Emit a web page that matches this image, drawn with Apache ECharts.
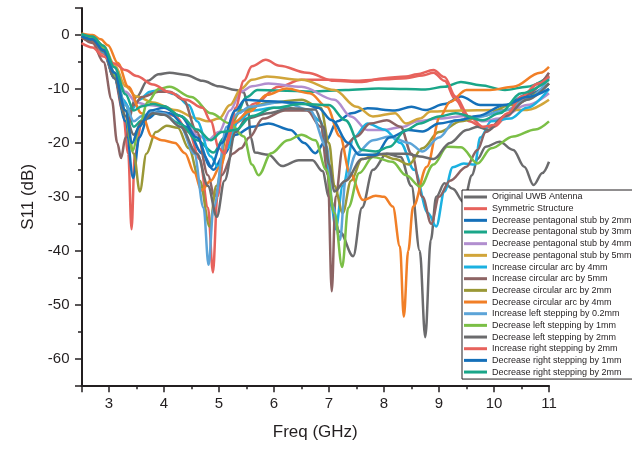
<!DOCTYPE html>
<html><head><meta charset="utf-8">
<script src="https://cdn.jsdelivr.net/npm/echarts@6/dist/echarts.min.js"></script>
<style>html,body{margin:0;padding:0;background:#fff}#c{width:632px;height:449px}</style>
</head><body><div id="c"></div>
<script>
const seriesNames = [
  'Original UWB Antenna','Symmetric Structure','Decrease pentagonal stub by 2mm','Decrease pentagonal stub by 3mm',
  'Decrease pentagonal stub by 4mm','Decrease pentagonal stub by 5mm','Increase circular arc by 4mm','Increase circular arc by 5mm',
  'Decrease circular arc by 2mm','Decrease circular arc by 4mm','Increase left stepping by 0.2mm','Decrease left stepping by 1mm',
  'Decrease left stepping by 2mm','Increase right stepping by 2mm','Decrease right stepping by 1mm','Decrease right stepping by 2mm'
];
const seriesColors = ['#6b6b6d','#e7625c','#1570b9','#1aa689','#b18ecf','#d1a53a','#1bb1e1','#8d6464',
  '#9a9836','#f17f27','#5ca4d8','#7bbf46','#6b6b6d','#e7625c','#1570b9','#1aa689'];

const s01 = [[2.5,-0.3],[2.7,-1],[2.9,-3],[3.1,-7.5],[3.25,-12],[3.38,-13.8],[3.5,-11.5],[3.7,-8.5],[3.9,-7.3],[4.1,-7],[4.4,-7.4],[4.7,-8.5],[5.0,-9.5],[5.3,-10.2],[5.45,-10.6],[5.52,-13],[5.58,-19],[5.65,-21.8],[5.9,-22.2],[6.15,-24.3],[6.45,-23.2],[6.7,-23.2],[6.88,-25.2],[7.0,-30],[7.2,-36.5],[7.44,-41],[7.6,-32],[7.8,-25],[8.05,-22],[8.3,-22.6],[8.5,-28],[8.65,-40],[8.75,-56],[8.85,-38],[8.95,-30],[9.1,-27.5],[9.25,-28.5],[9.45,-31],[9.6,-26],[9.7,-23],[9.85,-20.7],[10.1,-19.8],[10.35,-21.3],[10.55,-24.4],[10.72,-27.8],[10.88,-25.6],[11,-23.5]];
const s02 = [[2.5,-0.5],[2.7,-1.2],[2.9,-3.5],[3.1,-8],[3.25,-14],[3.35,-22],[3.41,-36],[3.47,-22],[3.6,-16],[3.8,-14.5],[4.0,-14.3],[4.2,-15],[4.45,-18],[4.65,-23],[4.8,-32],[4.89,-44],[4.97,-30],[5.1,-22],[5.29,-16.4],[5.65,-12.7],[6.08,-9.6],[6.5,-8.3],[7.05,-8.3],[7.5,-8.5],[8.0,-8.2],[8.4,-8],[8.7,-7.5],[8.9,-7],[9.1,-8.5],[9.3,-12],[9.55,-16],[9.8,-17.2],[10.0,-17],[10.25,-15],[10.5,-12],[10.8,-9],[11,-7.5]];
const s03 = [[2.5,0],[2.7,-0.8],[2.9,-3],[3.1,-8],[3.3,-16],[3.44,-26.5],[3.55,-19],[3.7,-15.5],[3.9,-14.2],[4.1,-14.5],[4.4,-17],[4.7,-22],[4.9,-25],[5.1,-22],[5.3,-18.5],[5.6,-17],[5.9,-16.4],[6.3,-17.6],[6.55,-20],[6.75,-21.9],[6.95,-19.5],[7.15,-16],[7.41,-14.5],[7.7,-13.6],[8.2,-14],[8.5,-13.3],[8.75,-13.9],[9.1,-12.8],[9.4,-11.4],[9.75,-13],[10.2,-13],[10.6,-11.1],[11,-9]];
const s04 = [[2.5,0],[2.7,-0.6],[2.9,-2.5],[3.1,-7],[3.3,-13],[3.45,-17],[3.6,-15.8],[3.8,-14.5],[4.0,-14.8],[4.3,-16.5],[4.6,-19.5],[4.9,-21.8],[5.1,-19],[5.3,-15],[5.5,-11.5],[5.7,-10.2],[6.1,-10.3],[6.7,-10.5],[7.3,-10.2],[7.9,-9.9],[8.4,-10],[8.75,-10.1],[9.1,-9.6],[9.4,-8.7],[9.75,-9.3],[10.2,-10.2],[10.6,-9.6],[11,-7.7]];
const s05 = [[2.5,0],[2.7,-0.5],[2.9,-2.2],[3.1,-6],[3.3,-10.5],[3.5,-12.5],[3.7,-13],[4.0,-13.2],[4.3,-15],[4.6,-18.5],[4.8,-19.5],[5.0,-18],[5.2,-14],[5.4,-10.5],[5.6,-9.5],[5.9,-9],[6.5,-9.6],[7.1,-12],[7.4,-15.1],[7.7,-17.6],[8.0,-17.6],[8.35,-17],[8.6,-16],[9.0,-15.5],[9.5,-15],[9.8,-16],[10.1,-15.5],[10.6,-13],[11,-10.8]];
const s06 = [[2.5,0.2],[2.7,-0.3],[2.9,-2],[3.1,-5.5],[3.3,-9.5],[3.5,-11.4],[3.8,-12.5],[4.2,-13.9],[4.6,-15.5],[4.8,-16],[5.0,-15.5],[5.2,-13],[5.4,-10],[5.6,-8.3],[5.87,-7.7],[6.5,-8.3],[7.1,-10.2],[7.5,-13.3],[7.8,-15.1],[8.2,-14.5],[8.4,-16.4],[8.65,-15.5],[8.85,-14.2],[9.4,-14],[10.0,-13.9],[10.6,-13.9],[11,-12]];
const s07 = [[2.5,0],[2.7,-0.8],[2.9,-3.2],[3.1,-8],[3.25,-12],[3.4,-14],[3.55,-12],[3.75,-10.5],[3.95,-10.2],[4.2,-11],[4.45,-13],[4.6,-16],[4.85,-22.5],[4.98,-24.4],[5.15,-21],[5.35,-16],[5.6,-14],[6.0,-13.5],[6.6,-13.9],[6.85,-16],[6.95,-22],[7.05,-32],[7.12,-36],[7.25,-28],[7.45,-19],[7.7,-16.4],[8.0,-17.5],[8.3,-20],[8.55,-25],[8.8,-33],[8.95,-35.5],[9.1,-29],[9.25,-24.5],[9.45,-23.8],[9.65,-24],[9.75,-19],[9.95,-16],[10.3,-15.5],[10.6,-13.5],[11,-10]];
const s08 = [[2.5,-0.3],[2.7,-1.5],[2.9,-5],[3.05,-12],[3.15,-20],[3.22,-22.8],[3.3,-19],[3.45,-13],[3.6,-11.5],[3.9,-10.5],[4.1,-10.5],[4.35,-12],[4.6,-18],[4.8,-26],[4.92,-30],[5.05,-26],[5.25,-22],[5.4,-21],[5.55,-19],[5.8,-15.5],[6.2,-14],[6.6,-14],[6.85,-17],[6.98,-26],[7.05,-47.5],[7.12,-30],[7.25,-21],[7.5,-18.8],[7.75,-16.4],[8.05,-15.8],[8.3,-17],[8.5,-22],[8.7,-30],[8.86,-35],[9.0,-30],[9.2,-27],[9.5,-24.4],[9.7,-21.3],[9.85,-18],[10.2,-15],[10.6,-11],[11,-7]];
const s09 = [[2.5,0],[2.7,-0.5],[2.9,-2.5],[3.1,-7],[3.3,-14],[3.45,-22],[3.56,-29],[3.68,-22],[3.85,-18],[4.05,-16.8],[4.25,-17.2],[4.45,-21],[4.65,-27],[4.83,-35.5],[4.95,-28],[5.15,-18],[5.4,-14],[5.9,-12.6],[6.5,-12],[6.85,-13.5],[7.0,-20],[7.1,-28],[7.25,-33],[7.4,-27],[7.6,-23],[7.9,-22],[8.2,-23],[8.45,-24],[8.7,-21],[9.0,-18],[9.4,-16],[9.8,-15],[10.3,-13],[11,-9]];
const s10 = [[2.5,0.3],[2.7,0],[2.85,-0.8],[2.98,-1.9],[3.16,-5.2],[3.35,-9.6],[3.59,-14.5],[3.78,-18.8],[3.96,-19.5],[4.2,-20],[4.38,-21.9],[4.55,-25.5],[4.68,-28.8],[4.85,-27],[5.02,-24.4],[5.25,-16.3],[5.56,-14.2],[5.87,-11.1],[6.23,-9.9],[6.65,-10.8],[6.96,-13.3],[7.2,-18.8],[7.38,-25.6],[7.62,-30.6],[7.85,-29.8],[8.0,-30],[8.16,-31.8],[8.29,-39.2],[8.36,-52.2],[8.44,-40],[8.53,-31.8],[8.78,-24.4],[9.02,-15.1],[9.2,-12.4],[9.5,-10.2],[9.93,-10.2],[10.35,-9.6],[10.84,-7],[11,-5.9]];
const s11 = [[2.5,0],[2.7,-0.7],[2.9,-3],[3.1,-7.5],[3.3,-13],[3.45,-16],[3.6,-15],[3.8,-14.3],[4.0,-14.5],[4.3,-17],[4.55,-22],[4.72,-32],[4.81,-42.6],[4.9,-32],[5.14,-17],[5.35,-14.5],[5.56,-13.3],[6.16,-12.4],[6.65,-13.9],[6.96,-20.7],[7.07,-31.8],[7.2,-38],[7.3,-27],[7.5,-21.9],[7.8,-19.5],[8.1,-18.8],[8.45,-20],[8.7,-21.6],[9.0,-19],[9.3,-15.8],[9.7,-15.2],[10.2,-14],[10.6,-12],[11,-8]];
const s12 = [[2.5,0],[2.7,-0.5],[2.9,-2.5],[3.1,-7.5],[3.3,-15],[3.43,-21.5],[3.55,-17],[3.7,-12.5],[3.9,-10],[4.1,-9.6],[4.5,-11.5],[4.85,-14.5],[5.2,-16.4],[5.45,-18.8],[5.6,-24],[5.72,-26],[5.95,-21.9],[6.25,-19.5],[6.5,-18.5],[6.75,-19.5],[6.95,-25],[7.1,-33],[7.24,-43],[7.35,-32],[7.55,-25.6],[7.8,-22.6],[8.15,-23.5],[8.4,-26],[8.66,-28.1],[8.9,-24],[9.15,-20.7],[9.4,-20.8],[9.7,-23.8],[9.95,-21],[10.35,-18.8],[10.75,-17.5],[11,-16]];
const s13 = [[2.5,-0.3],[2.7,-1],[2.9,-3],[3.1,-8],[3.3,-15],[3.45,-18.5],[3.6,-16],[3.8,-14.5],[4.0,-14.8],[4.3,-17],[4.6,-22],[4.8,-28],[4.96,-33.7],[5.1,-27],[5.3,-18],[5.5,-15.5],[5.9,-14.5],[6.3,-13.6],[6.75,-13.8],[6.9,-17],[7.0,-24],[7.1,-29],[7.3,-27],[7.6,-23],[8.0,-22],[8.4,-22],[8.65,-22.5],[8.9,-23],[9.2,-20],[9.5,-17.6],[9.7,-17],[9.9,-17.6],[10.2,-15],[10.6,-12],[11,-9]];
const s14 = [[2.5,-1.5],[2.7,-2.3],[2.9,-4],[3.1,-5.3],[3.3,-6.5],[3.5,-7.6],[3.8,-9.2],[4.1,-10.6],[4.4,-12],[4.7,-13.5],[4.85,-16],[5.0,-21],[5.1,-22],[5.2,-18],[5.3,-13.5],[5.45,-8.5],[5.6,-5.8],[5.85,-4.6],[6.1,-5.7],[6.6,-7],[7.1,-8.5],[7.6,-8.7],[8.0,-8],[8.4,-7.7],[8.6,-7.3],[8.9,-6.5],[9.1,-7.8],[9.3,-11.4],[9.55,-15.1],[9.8,-17],[10.0,-16.7],[10.25,-14.5],[10.5,-11.4],[10.8,-9],[11,-7.7]];
const s15 = [[2.5,-0.2],[2.7,-0.8],[2.9,-2.8],[3.1,-7],[3.3,-14],[3.42,-20],[3.55,-17],[3.75,-14],[4.0,-13.5],[4.3,-15],[4.6,-19],[4.85,-24.5],[5.05,-20],[5.3,-14],[5.47,-12],[5.9,-12.3],[6.5,-12.6],[6.8,-13.5],[7.05,-15.8],[7.35,-20],[7.55,-22.2],[7.85,-22.2],[8.1,-19],[8.45,-17.6],[8.7,-17.9],[9.0,-16.4],[9.35,-15.8],[9.7,-15],[10.2,-13],[10.6,-11.5],[11,-10]];
const s16 = [[2.5,0.2],[2.7,-0.3],[2.9,-2],[3.1,-6],[3.3,-11],[3.45,-14],[3.6,-13.2],[3.8,-12.8],[4.0,-13.2],[4.3,-15],[4.6,-17.5],[4.85,-19.5],[5.05,-18],[5.3,-17.6],[5.6,-15],[6.0,-13.5],[6.5,-12.8],[7.0,-13],[7.3,-15.8],[7.6,-21.3],[7.85,-21.6],[8.1,-20.7],[8.4,-17.6],[8.65,-16.4],[9.0,-15.1],[9.3,-14.5],[9.8,-15.8],[10.1,-14.5],[10.5,-10.8],[11,-8.3]];
const seriesData = [s01,s02,s03,s04,s05,s06,s07,s08,s09,s10,s11,s12,s13,s14,s15,s16];

const xLabels = [3,4,5,6,7,8,9,10,11];
const yLabels = [0,-10,-20,-30,-40,-50,-60];

const FONT = '"Liberation Sans", Arial, sans-serif';
const AX = '#231f20';
const chart = echarts.init(document.getElementById('c'), null, {renderer:'canvas'});
chart.setOption({
  animation:false,
  backgroundColor:'#ffffff',
  textStyle:{fontFamily:FONT},
  grid:{left:81.5, right:83, top:8, bottom:63.3, containLabel:false},
  xAxis:[
    {type:'value', min:2.5, max:11, interval:0.5, position:'bottom',
     axisLine:{show:true, onZero:false, lineStyle:{color:AX, width:2}},
     axisTick:{show:true, length:3.5, lineStyle:{color:AX, width:1.5}},
     axisLabel:{show:false}, splitLine:{show:false}},
    {type:'value', min:2.5, max:11, splitNumber:8, position:'bottom',
     axisLine:{show:false, onZero:false},
     axisTick:{show:true, length:6.5, lineStyle:{color:AX, width:1.5}},
     axisLabel:{show:true, margin:11, fontSize:15, color:AX, fontFamily:FONT,
       formatter:v => xLabels.indexOf(v) >= 0 ? String(v) : ''},
     splitLine:{show:false},
     name:'Freq (GHz)', nameLocation:'middle', nameGap:38,
     nameTextStyle:{fontSize:17, color:AX, fontFamily:FONT}}
  ],
  yAxis:[
    {type:'value', min:-65, max:5, interval:5, position:'left',
     axisLine:{show:true, onZero:false, lineStyle:{color:AX, width:2}},
     axisTick:{show:true, length:3.5, lineStyle:{color:AX, width:1.5}},
     axisLabel:{show:false}, splitLine:{show:false}},
    {type:'value', min:-65, max:5, splitNumber:7, position:'left',
     axisLine:{show:false, onZero:false},
     axisTick:{show:true, length:6.5, lineStyle:{color:AX, width:1.5}},
     axisLabel:{show:true, margin:12, fontSize:15, color:AX, fontFamily:FONT,
       formatter:v => yLabels.indexOf(v) >= 0 ? String(v) : ''},
     splitLine:{show:false},
     name:'S11 (dB)', nameLocation:'middle', nameGap:42, nameRotate:90,
     nameTextStyle:{fontSize:17, color:AX, fontFamily:FONT}}
  ],
  legend:{
    orient:'vertical', left:462, top:190, icon:'rect', itemWidth:23, itemHeight:3,
    itemGap:1.67, padding:[2,4,2,2], borderColor:AX, borderWidth:1, backgroundColor:'#ffffff',
    textStyle:{fontSize:9, color:AX, fontFamily:FONT, lineHeight:10},
    data: seriesNames
  },
  series: seriesNames.map((n,i) => ({
    name:n, type:'line', xAxisIndex:0, yAxisIndex:0, data:seriesData[i],
    showSymbol:false, smooth:0.35, smoothMonotone:'x',
    lineStyle:{width:2.5, color:seriesColors[i]}, itemStyle:{color:seriesColors[i]},
    emphasis:{disabled:true}
  }))
});
</script></body></html>
